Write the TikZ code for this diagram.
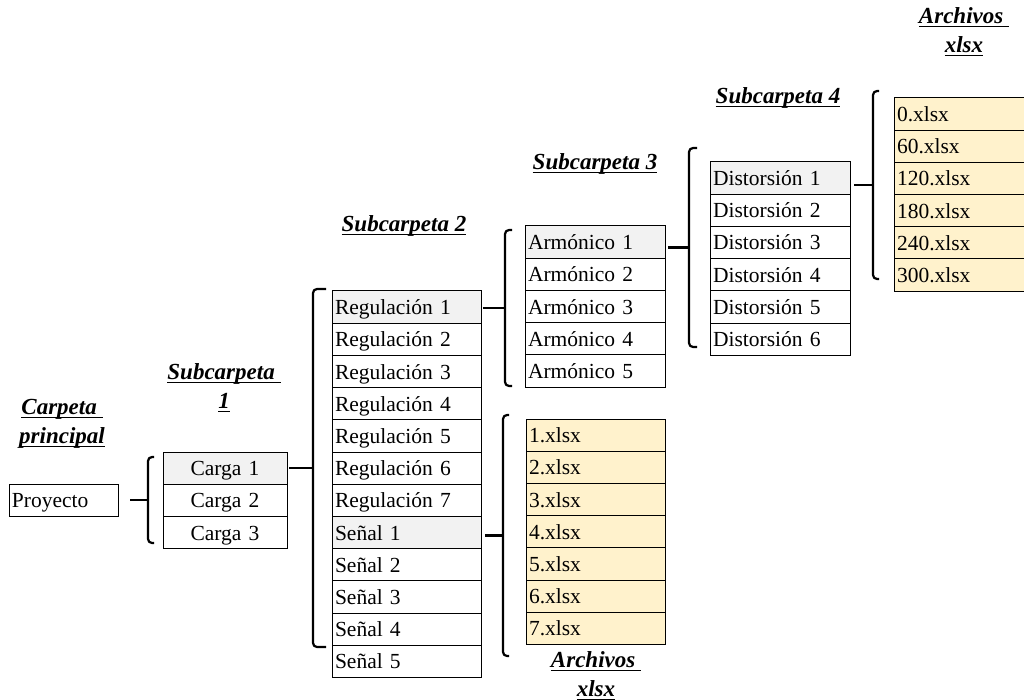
\documentclass[tikz,border=0pt]{standalone}
\usepackage{fontspec}
\setmainfont{Liberation Serif}
\newcommand\myul[1]{\setbox0\hbox{#1}\rlap{\rule[-3.5pt]{\wd0}{1.3pt}}\box0}
\definecolor{hdr}{HTML}{F2F2F2}
\definecolor{xl}{HTML}{FFF2CC}
\begin{document}
\begin{tikzpicture}[x=1pt,y=-1pt,
  cell/.style={draw, line width=1pt, anchor=north west, minimum height=32.2pt,
    inner xsep=3pt, inner ysep=0pt, outer sep=0pt, text height=16pt, text depth=1pt,
    font=\fontsize{21.5}{24}\selectfont},
  proycell/.style={cell, text width=103pt, align=left},
  cargacell/.style={cell, text width=118pt, align=center},
  regcell/.style={cell, text width=143pt, align=left},
  armcell/.style={cell, text width=134pt, align=left},
  distcell/.style={cell, text width=134pt, align=left},
  xltcell/.style={cell, text width=134pt, align=left, fill=xl},
  xlbcell/.style={cell, text width=133pt, align=left, fill=xl},
  first/.style={fill=hdr},
  brk/.style={line width=2.2pt, rounded corners=4pt},
  conn/.style={line width=2.2pt},
  lab/.style={font=\fontsize{23}{28.5}\selectfont\bfseries\itshape, inner sep=0pt, align=center}]
\useasboundingbox (0,0) rectangle (1024,700);
\clip (0,0) rectangle (1024,700);

% labels
\node[lab] (lcp) at (62,424) {\myul{Carpeta\ }\\\myul{principal}};
\node[lab] (ls1) at (224,388) {\myul{Subcarpeta\ }\\\myul{1}};
\node[lab] (ls2) at (404,226) {\myul{Subcarpeta 2}};
\node[lab] (ls3) at (595,164) {\myul{Subcarpeta 3}};
\node[lab] (ls4) at (778,98) {\myul{Subcarpeta 4}};
\node[lab] (lxt) at (964,32) {\myul{Archivos\ }\\\myul{xlsx}};
\node[lab] (lxb) at (596,676) {\myul{Archivos\ }\\\myul{xlsx}};

% main folder
\node[proycell] (proy) at (9,484) {Proyecto};

% subcarpeta 1
\node[cargacell, first] (c1) at (163,452) {Carga 1};
\node[cargacell] (c2) at (c1.south west) {Carga 2};
\node[cargacell] (c3) at (c2.south west) {Carga 3};

% subcarpeta 2
\node[regcell, first] (r1) at (332,291) {Regulación 1};
\node[regcell] (r2) at (r1.south west) {Regulación 2};
\node[regcell] (r3) at (r2.south west) {Regulación 3};
\node[regcell] (r4) at (r3.south west) {Regulación 4};
\node[regcell] (r5) at (r4.south west) {Regulación 5};
\node[regcell] (r6) at (r5.south west) {Regulación 6};
\node[regcell] (r7) at (r6.south west) {Regulación 7};
\node[regcell, first] (s1) at (r7.south west) {Señal 1};
\node[regcell] (s2) at (s1.south west) {Señal 2};
\node[regcell] (s3) at (s2.south west) {Señal 3};
\node[regcell] (s4) at (s3.south west) {Señal 4};
\node[regcell] (s5) at (s4.south west) {Señal 5};

% subcarpeta 3
\node[armcell, first] (a1) at (525,226) {Armónico 1};
\node[armcell] (a2) at (a1.south west) {Armónico 2};
\node[armcell] (a3) at (a2.south west) {Armónico 3};
\node[armcell] (a4) at (a3.south west) {Armónico 4};
\node[armcell] (a5) at (a4.south west) {Armónico 5};

% subcarpeta 4
\node[distcell, first] (d1) at (710,162) {Distorsión 1};
\node[distcell] (d2) at (d1.south west) {Distorsión 2};
\node[distcell] (d3) at (d2.south west) {Distorsión 3};
\node[distcell] (d4) at (d3.south west) {Distorsión 4};
\node[distcell] (d5) at (d4.south west) {Distorsión 5};
\node[distcell] (d6) at (d5.south west) {Distorsión 6};

% xlsx top
\node[xltcell] (x0) at (894,98) {0.xlsx};
\node[xltcell] (x60) at (x0.south west) {60.xlsx};
\node[xltcell] (x120) at (x60.south west) {120.xlsx};
\node[xltcell] (x180) at (x120.south west) {180.xlsx};
\node[xltcell] (x240) at (x180.south west) {240.xlsx};
\node[xltcell] (x300) at (x240.south west) {300.xlsx};

% xlsx bottom
\node[xlbcell] (f1) at (526,419) {1.xlsx};
\node[xlbcell] (f2) at (f1.south west) {2.xlsx};
\node[xlbcell] (f3) at (f2.south west) {3.xlsx};
\node[xlbcell] (f4) at (f3.south west) {4.xlsx};
\node[xlbcell] (f5) at (f4.south west) {5.xlsx};
\node[xlbcell] (f6) at (f5.south west) {6.xlsx};
\node[xlbcell] (f7) at (f6.south west) {7.xlsx};

% bracket coordinates
\coordinate (b1t) at (148,457); \coordinate (b1b) at (148,543); \coordinate (b1m) at (148,500);
\coordinate (b2t) at (313,289); \coordinate (b2b) at (313,647); \coordinate (b2m) at (313,468);
\coordinate (b3t) at (505,230); \coordinate (b3b) at (505,386); \coordinate (b3m) at (505,308);
\coordinate (b4t) at (689,148); \coordinate (b4b) at (689,347); \coordinate (b4m) at (689,247.5);
\coordinate (b5t) at (873,91);  \coordinate (b5b) at (873,279); \coordinate (b5m) at (873,185);
\coordinate (b6t) at (503,415); \coordinate (b6b) at (503,656); \coordinate (b6m) at (503,535.5);

% brackets
\draw[brk] ([xshift=6pt]b1t) -- (b1t) -- (b1b) -- ([xshift=6pt]b1b);
\draw[brk] ([xshift=13pt]b2t) -- (b2t) -- (b2b) -- ([xshift=13pt]b2b);
\draw[brk] ([xshift=7pt]b3t) -- (b3t) -- (b3b) -- ([xshift=7pt]b3b);
\draw[brk] ([xshift=8pt]b4t) -- (b4t) -- (b4b) -- ([xshift=8pt]b4b);
\draw[brk] ([xshift=6pt]b5t) -- (b5t) -- (b5b) -- ([xshift=6pt]b5b);
\draw[brk] ([xshift=6pt]b6t) -- (b6t) -- (b6b) -- ([xshift=6pt]b6b);

% connectors
\draw[conn, shorten <=12pt] (proy.east |- b1m) -- (b1m);
\draw[conn, shorten <=2pt] (c1.east |- b2m) -- (b2m);
\draw[conn, shorten <=2pt] (r1.east |- b3m) -- (b3m);
\draw[conn, shorten <=3pt] (a1.east |- b4m) -- (b4m);
\draw[conn, shorten <=4pt] (d1.east |- b5m) -- (b5m);
\draw[conn, shorten <=4pt] (s1.east |- b6m) -- (b6m);
\end{tikzpicture}
\end{document}
